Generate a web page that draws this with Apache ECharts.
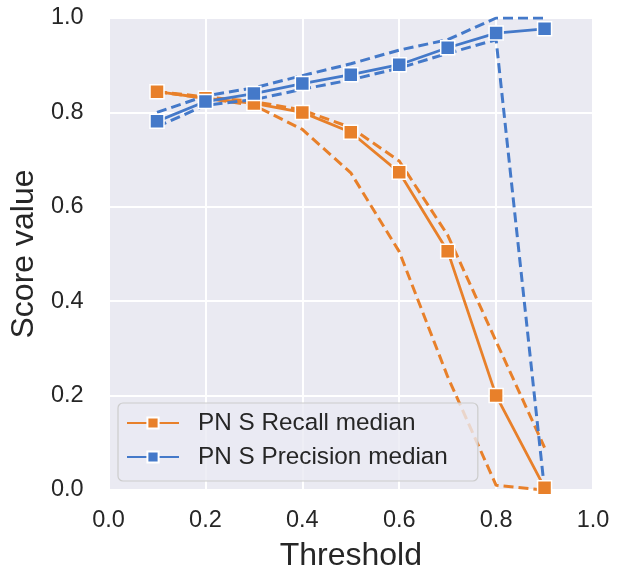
<!DOCTYPE html>
<html>
<head>
<meta charset="utf-8">
<script src="https://cdn.jsdelivr.net/npm/echarts@6/dist/echarts.min.js"></script>
<style>html,body{margin:0;padding:0;background:#fff;}#c{width:627px;height:577px;}</style>
</head>
<body>
<div id="c"></div>
<script>
const thresholds = [0.1, 0.2, 0.3, 0.4, 0.5, 0.6, 0.7, 0.8, 0.9];
const recallMedian = [0.844, 0.830, 0.819, 0.800, 0.758, 0.673, 0.506, 0.200, 0.005];
const recallUpper = [0.844, 0.833, 0.823, 0.805, 0.768, 0.697, 0.540, 0.315, 0.090];
const recallLower = [0.844, 0.830, 0.815, 0.764, 0.672, 0.505, 0.240, 0.010, 0.000];
const precisionMedian = [0.781, 0.823, 0.840, 0.861, 0.880, 0.901, 0.937, 0.968, 0.977];
const precisionUpper = [0.800, 0.835, 0.852, 0.878, 0.903, 0.932, 0.954, 1.000, 1.000];
const precisionLower = [0.770, 0.815, 0.827, 0.849, 0.869, 0.894, 0.925, 0.954, 0.000];
const tickValues = [0.0, 0.2, 0.4, 0.6, 0.8, 1.0];

const ORANGE = '#E8802A';
const BLUE = '#4479C9';
const FONT = 'Liberation Sans, Arial, Helvetica, sans-serif';

function pairs(ys) { return thresholds.map((x, i) => [x, ys[i]]); }

function median(name, ys, color) {
  return {
    name: name, type: 'line', data: pairs(ys),
    symbol: 'rect', symbolSize: 14, showSymbol: true,
    itemStyle: { color: color, borderColor: '#ffffff', borderWidth: 1.5 },
    lineStyle: { color: color, width: 2.8 },
    emphasis: { disabled: true }, animation: false, clip: true
  };
}
function band(ys, color) {
  return {
    type: 'line', data: pairs(ys), showSymbol: false, symbol: 'none',
    lineStyle: { color: color, width: 3, type: [10, 5] },
    emphasis: { disabled: true }, animation: false, silent: true, clip: true
  };
}

const chart = echarts.init(document.getElementById('c'), null, { renderer: 'canvas' });
const axisCommon = {
  type: 'value', min: 0, max: 1, interval: 0.2,
  axisLine: { show: false }, axisTick: { show: false },
  splitLine: { show: true, lineStyle: { color: '#ffffff', width: 2 } },
  nameLocation: 'middle',
  nameTextStyle: { fontSize: 32, color: '#262626', fontFamily: FONT },
};
chart.setOption({
  backgroundColor: '#ffffff',
  animation: false,
  grid: { left: 108, right: 34, top: 18, bottom: 85, show: true, backgroundColor: '#EAEAF2', borderWidth: 0 },
  xAxis: Object.assign({}, axisCommon, {
    name: 'Threshold', nameGap: 50,
    axisLabel: { fontSize: 23.5, color: '#262626', fontFamily: FONT, margin: 19,
      formatter: v => tickValues.some(t => Math.abs(t - v) < 1e-9) ? v.toFixed(1) : '' }
  }),
  yAxis: Object.assign({}, axisCommon, {
    name: 'Score value', nameGap: 68,
    axisLabel: { fontSize: 23.5, color: '#262626', fontFamily: FONT, margin: 25,
      formatter: v => v.toFixed(1) }
  }),
  legend: {
    data: ['PN S Recall median', 'PN S Precision median'],
    orient: 'vertical', left: 118, top: 403,
    itemWidth: 52, itemHeight: 14, itemGap: 6,
    padding: [6, 30, 10, 8],
    backgroundColor: 'rgba(234,234,242,0.8)',
    borderColor: '#cccccc', borderWidth: 1.2, borderRadius: 5,
    textStyle: { fontSize: 24.3, color: '#262626', fontFamily: FONT, lineHeight: 28, padding: [0, 0, 0, 14] }
  },
  series: [
    median('PN S Recall median', recallMedian, ORANGE),
    band(recallUpper, ORANGE),
    band(recallLower, ORANGE),
    median('PN S Precision median', precisionMedian, BLUE),
    band(precisionUpper, BLUE),
    band(precisionLower, BLUE)
  ]
});
</script>
</body>
</html>
